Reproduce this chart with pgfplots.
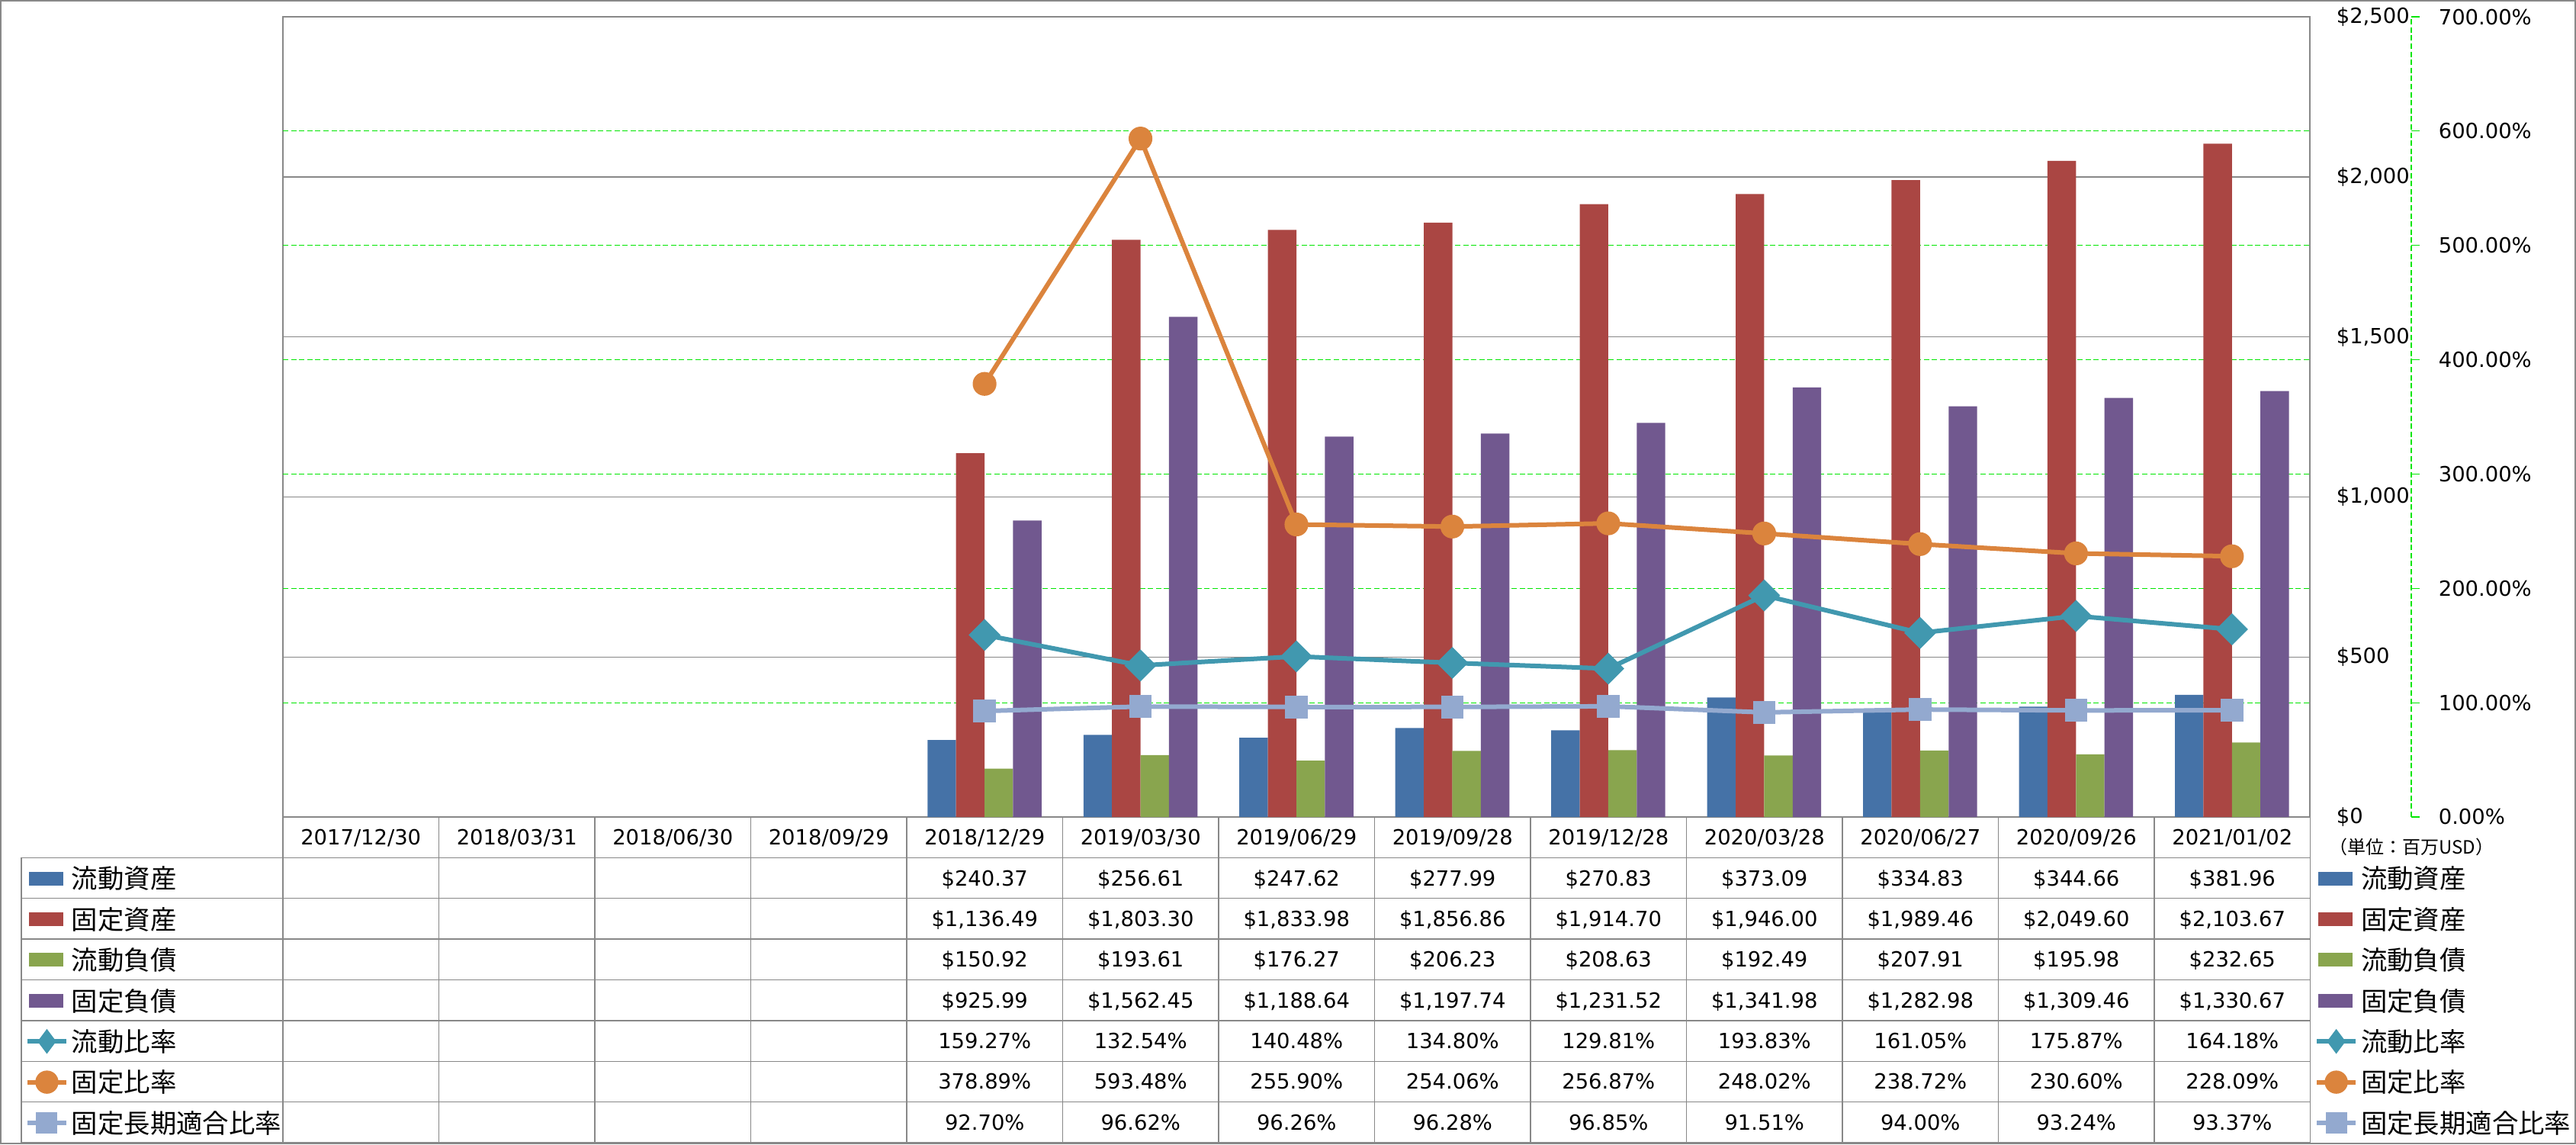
\documentclass[border=0pt]{standalone}
\usepackage{pgfplots}
\pgfplotsset{compat=1.18}
\usepackage{pgfplotstable}
\usepackage{fontspec}
\setmainfont{DejaVu Sans}
\newfontfamily\cjk{Noto Sans CJK JP}
\definecolor{cA}{HTML}{4572A7}
\definecolor{cB}{HTML}{AA4643}
\definecolor{cC}{HTML}{89A54E}
\definecolor{cD}{HTML}{71588F}
\definecolor{cE}{HTML}{4198AF}
\definecolor{cF}{HTML}{DB843D}
\definecolor{cG}{HTML}{93A9CF}
\definecolor{gridgray}{HTML}{888888}
\definecolor{lime}{HTML}{00E600}
\newcommand\lf{\fontsize{6.85pt}{8pt}\selectfont}
\newcommand\jf{\cjk\fontsize{8.6pt}{10pt}\selectfont}
\newcommand\uf{\cjk\fontsize{6pt}{7pt}\selectfont}

\pgfplotstableread{
x ca fa cl fl cr fr flr
4 240.37 1136.49 150.92 925.99 159.27 378.89 92.70
5 256.61 1803.30 193.61 1562.45 132.54 593.48 96.62
6 247.62 1833.98 176.27 1188.64 140.48 255.90 96.26
7 277.99 1856.86 206.23 1197.74 134.80 254.06 96.28
8 270.83 1914.70 208.63 1231.52 129.81 256.87 96.85
9 373.09 1946.00 192.49 1341.98 193.83 248.02 91.51
10 334.83 1989.46 207.91 1282.98 161.05 238.72 94.00
11 344.66 2049.60 195.98 1309.46 175.87 230.60 93.24
12 381.96 2103.67 232.65 1330.67 164.18 228.09 93.37
}\data

\pgfplotsset{
  barleg/.style={legend image code/.code={\fill[##1] (0.5pt,-2.25pt) rectangle (11.75pt,2.25pt);}},
  lineleg/.style={legend image code/.code={\draw[mark repeat=2,mark phase=2,##1] plot coordinates {(0pt,0pt) (6.375pt,0pt) (12.75pt,0pt)};}},
  tbleg/.style={hide axis, scale only axis, width=844.5pt, height=375pt,
    at={(0pt,0pt)}, anchor=north west, xmin=0, xmax=1, ymin=0, ymax=1,
    legend cell align=left,
    legend style={draw=none, fill=none, inner sep=0pt, outer sep=0pt,
      row sep=0pt, column sep=1pt, anchor=north west, font=\jf,
      nodes={inner sep=0pt, text height=7pt, text depth=0.4pt, minimum height=13.344pt}}},
}
\newcommand\legitems{%
  \addlegendimage{barleg, fill=cA, draw=none}\addlegendentry{流動資産}
  \addlegendimage{barleg, fill=cB, draw=none}\addlegendentry{固定資産}
  \addlegendimage{barleg, fill=cC, draw=none}\addlegendentry{流動負債}
  \addlegendimage{barleg, fill=cD, draw=none}\addlegendentry{固定負債}
  \addlegendimage{lineleg, cE, line width=1.5pt, mark=diamond*, mark size=3.75pt, mark options={solid, fill=cE, draw=cE, line width=0.4pt}}\addlegendentry{流動比率}
  \addlegendimage{lineleg, cF, line width=1.5pt, mark=*, mark size=3.6pt, mark options={solid, fill=cF, draw=cF, line width=0.4pt}}\addlegendentry{固定比率}
  \addlegendimage{lineleg, cG, line width=1.5pt, mark=square*, mark size=3.3pt, mark options={solid, fill=cG, draw=cG, line width=0.4pt}}\addlegendentry{固定長期適合比率}
}

\begin{document}
\begin{tikzpicture}
\useasboundingbox (0,0) rectangle (844.5pt,-375pt);
\draw[gridgray, line width=0.5pt] (0.25pt,-0.25pt) rectangle (844.25pt,-374.75pt);

% bars, $ axis
\begin{axis}[
  scale only axis, width=664.5pt, height=262.25pt,
  at={(92.75pt,-267.75pt)}, anchor=south west,
  xmin=-0.5, xmax=12.5, ymin=0, ymax=2500,
  xtick=\empty, ytick={0,500,...,2500},
  yticklabels={{\$0},{\$500},{\$1,000},{\$1,500},{\$2,000},{\$2,500}},
  yticklabel pos=right,
  yticklabel style={anchor=west, inner sep=0pt, xshift=8.5pt, font=\lf},
  major tick length=0pt,
  axis line style={gridgray, line width=0.35pt},
  ymajorgrids, major grid style={gridgray, line width=0.35pt},
  extra y ticks={357.142857,714.285714,1071.428571,1428.571429,1785.714286,2142.857143},
  extra y tick labels={},
  extra y tick style={grid=major, major grid style={lime, line width=0.3pt, dash pattern=on 1.75pt off 0.9pt}},
]
\addplot[ybar, bar width=0.1829, bar shift=-0.2743, fill=cA, draw=none] table[x=x,y=ca]{\data};
\addplot[ybar, bar width=0.1829, bar shift=-0.0914, fill=cB, draw=none] table[x=x,y=fa]{\data};
\addplot[ybar, bar width=0.1829, bar shift=0.0914, fill=cC, draw=none] table[x=x,y=cl]{\data};
\addplot[ybar, bar width=0.1829, bar shift=0.2743, fill=cD, draw=none] table[x=x,y=fl]{\data};
\end{axis}

% ratio lines
\begin{axis}[
  scale only axis, width=664.5pt, height=262.25pt,
  at={(92.75pt,-267.75pt)}, anchor=south west,
  xmin=-0.5, xmax=12.5, ymin=0, ymax=700, hide axis, clip=false,
]
\addplot[cE, line width=1.5pt, mark=square*, mark size=3.5pt, mark options={solid, rotate=45, fill=cE, draw=cE, line width=0.4pt}] table[x=x,y=cr]{\data};
\addplot[cF, line width=1.5pt, mark=*, mark size=3.7pt, mark options={solid, fill=cF, draw=cF, line width=0.4pt}] table[x=x,y=fr]{\data};
\addplot[cG, line width=1.5pt, mark=square*, mark size=3.5pt, mark options={solid, fill=cG, draw=cG, line width=0.4pt}] table[x=x,y=flr]{\data};
\end{axis}

% percent axis
\begin{axis}[
  scale only axis, width=10pt, height=262.25pt,
  at={(790.5pt,-267.75pt)}, anchor=south east,
  xmin=0, xmax=1, ymin=0, ymax=700,
  axis x line=none, axis y line*=right,
  ytick={0,100,...,700},
  yticklabels={0.00\%,100.00\%,200.00\%,300.00\%,400.00\%,500.00\%,600.00\%,700.00\%},
  tick align=outside, major tick length=2.75pt,
  ytick style={lime, line width=0.3pt},
  y axis line style={lime, line width=0.3pt, dash pattern=on 1.75pt off 0.9pt},
  yticklabel style={anchor=west, inner sep=0pt, xshift=6pt, font=\lf},
]
\end{axis}

\node[font=\uf] at (790.5pt,-277.5pt) {（単位：百万USD）};

% data table grid
\begin{scope}[gridgray, line width=0.35pt]
\foreach \j in {1,...,8} \draw (7pt,{-(267.75pt+13.344pt*\j)}) -- (757.25pt,{-(267.75pt+13.344pt*\j)});
\foreach \k in {0,...,13} \draw ({92.75pt+51.125pt*\k},-267.75pt) -- ({92.75pt+51.125pt*\k},-374.5pt);
\draw (7pt,-281.094pt) -- (7pt,-374.5pt);
\end{scope}

\begin{scope}[every node/.style={font=\lf, text height=5pt, text depth=0pt, inner sep=0pt, anchor=center}]
\foreach \d [count=\k from 0] in {2017/12/30,2018/03/31,2018/06/30,2018/09/29,2018/12/29,2019/03/30,2019/06/29,2019/09/28,2019/12/28,2020/03/28,2020/06/27,2020/09/26,2021/01/02}
  \node at ({92.75pt+51.125pt*(\k+0.5)},{-(267.75pt+13.344pt*0.5)}) {\d};
\foreach \v [count=\k from 4] in {{\$240.37},{\$256.61},{\$247.62},{\$277.99},{\$270.83},{\$373.09},{\$334.83},{\$344.66},{\$381.96}}
  \node at ({92.75pt+51.125pt*(\k+0.5)},{-(267.75pt+13.344pt*1.5)}) {\v};
\foreach \v [count=\k from 4] in {{\$1,136.49},{\$1,803.30},{\$1,833.98},{\$1,856.86},{\$1,914.70},{\$1,946.00},{\$1,989.46},{\$2,049.60},{\$2,103.67}}
  \node at ({92.75pt+51.125pt*(\k+0.5)},{-(267.75pt+13.344pt*2.5)}) {\v};
\foreach \v [count=\k from 4] in {{\$150.92},{\$193.61},{\$176.27},{\$206.23},{\$208.63},{\$192.49},{\$207.91},{\$195.98},{\$232.65}}
  \node at ({92.75pt+51.125pt*(\k+0.5)},{-(267.75pt+13.344pt*3.5)}) {\v};
\foreach \v [count=\k from 4] in {{\$925.99},{\$1,562.45},{\$1,188.64},{\$1,197.74},{\$1,231.52},{\$1,341.98},{\$1,282.98},{\$1,309.46},{\$1,330.67}}
  \node at ({92.75pt+51.125pt*(\k+0.5)},{-(267.75pt+13.344pt*4.5)}) {\v};
\foreach \v [count=\k from 4] in {159.27\%,132.54\%,140.48\%,134.80\%,129.81\%,193.83\%,161.05\%,175.87\%,164.18\%}
  \node at ({92.75pt+51.125pt*(\k+0.5)},{-(267.75pt+13.344pt*5.5)}) {\v};
\foreach \v [count=\k from 4] in {378.89\%,593.48\%,255.90\%,254.06\%,256.87\%,248.02\%,238.72\%,230.60\%,228.09\%}
  \node at ({92.75pt+51.125pt*(\k+0.5)},{-(267.75pt+13.344pt*6.5)}) {\v};
\foreach \v [count=\k from 4] in {92.70\%,96.62\%,96.26\%,96.28\%,96.85\%,91.51\%,94.00\%,93.24\%,93.37\%}
  \node at ({92.75pt+51.125pt*(\k+0.5)},{-(267.75pt+13.344pt*7.5)}) {\v};
\end{scope}

% legends (left column of table, and right side)
\begin{axis}[tbleg, legend style={at={(8.25/844.5,0.25)}}]
\legitems
\end{axis}
\begin{axis}[tbleg, legend style={at={(758.75/844.5,0.25)}}]
\legitems
\end{axis}
\end{tikzpicture}
\end{document}
